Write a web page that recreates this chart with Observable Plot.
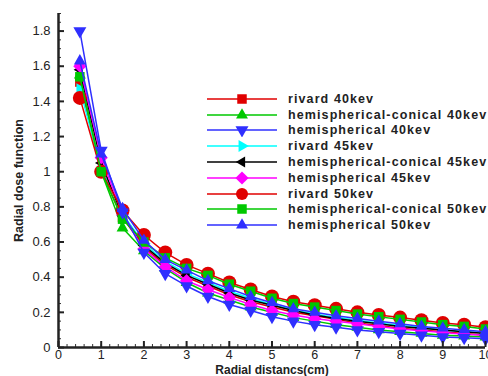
<!DOCTYPE html>
<html><head><meta charset="utf-8">
<script src="https://cdn.jsdelivr.net/npm/d3@7"></script>
<script src="https://cdn.jsdelivr.net/npm/@observablehq/plot@0.6"></script>
<style>
body{margin:0;background:#fff;font-family:"Liberation Sans",Arial,sans-serif;}
#wrap{position:relative;width:488px;height:376px;overflow:hidden;}
#legend{position:absolute;left:207px;top:91px;font:bold 12.5px "Liberation Sans",Arial,sans-serif;letter-spacing:1.1px;color:#222;white-space:nowrap;}
#legend .row{display:flex;align-items:center;height:15.8px;}
#legend svg{margin-right:11px;}
</style></head>
<body><div id="wrap"><div id="chart"></div><div id="legend"></div></div>
<script>
const distances = [0.5,1,1.5,2,2.5,3,3.5,4,4.5,5,5.5,6,6.5,7,7.5,8,8.5,9,9.5,10];
const seriesNames = ["rivard 40kev","hemispherical-conical 40kev","hemispherical 40kev","rivard 45kev","hemispherical-conical 45kev","hemispherical 45kev","rivard 50kev","hemispherical-conical 50kev","hemispherical 50kev"];
const rivard40 = [1.51,1.0,0.74,0.57,0.47,0.40,0.35,0.30,0.26,0.23,0.20,0.18,0.16,0.14,0.125,0.11,0.10,0.09,0.08,0.07];
const hemiCon40 = [1.55,1.0,0.68,0.55,0.45,0.37,0.31,0.27,0.23,0.20,0.17,0.15,0.13,0.115,0.10,0.09,0.08,0.07,0.065,0.06];
const hemi40 = [1.80,1.12,0.77,0.54,0.42,0.35,0.29,0.245,0.21,0.175,0.15,0.13,0.115,0.10,0.09,0.08,0.07,0.06,0.055,0.05];
const rivard45 = [1.47,1.02,0.76,0.59,0.49,0.42,0.37,0.32,0.28,0.245,0.215,0.19,0.17,0.155,0.14,0.125,0.115,0.10,0.09,0.085];
const hemiCon45 = [1.58,1.05,0.75,0.58,0.48,0.41,0.36,0.31,0.27,0.24,0.21,0.185,0.165,0.15,0.135,0.12,0.11,0.10,0.09,0.08];
const hemi45 = [1.60,1.08,0.76,0.56,0.46,0.38,0.33,0.285,0.245,0.21,0.185,0.165,0.15,0.135,0.12,0.105,0.095,0.085,0.075,0.07];
const rivard50 = [1.42,1.0,0.78,0.64,0.54,0.47,0.42,0.37,0.33,0.29,0.26,0.24,0.22,0.20,0.185,0.17,0.155,0.14,0.13,0.115];
const hemiCon50 = [1.54,1.0,0.73,0.60,0.51,0.45,0.41,0.36,0.32,0.28,0.25,0.23,0.21,0.19,0.175,0.16,0.145,0.13,0.12,0.105];
const hemi50 = [1.63,1.10,0.79,0.61,0.50,0.44,0.38,0.335,0.29,0.255,0.22,0.20,0.18,0.165,0.15,0.135,0.12,0.11,0.10,0.09];
const seriesValues = [rivard40,hemiCon40,hemi40,rivard45,hemiCon45,hemi45,rivard50,hemiCon50,hemi50];
const seriesColors = ["#e00000","#00c800","#2f2fff","#00ffff","#000000","#ff00ff","#e00000","#00c800","#2f2fff"];
const seriesMarkers = ["square","triangle","tridown","triright","trileft","diamond","circle","square","triangle"];
const markerSizes = [5,5.5,6,5.5,5,5.5,7,5,5.5];
const xTicks = [0,1,2,3,4,5,6,7,8,9,10];
const yTicks = [0,0.2,0.4,0.6,0.8,1,1.2,1.4,1.6,1.8];

function triSym(deg){
  return {draw(ctx, size){
    const R = Math.sqrt(size/Math.PI)*1.25;
    for(let k=0;k<3;k++){
      const a = (deg + k*120)*Math.PI/180;
      const px = R*Math.cos(a), py = R*Math.sin(a);
      if(k===0) ctx.moveTo(px,py); else ctx.lineTo(px,py);
    }
    ctx.closePath();
  }};
}
const diamondSym = {draw(ctx,size){const R=Math.sqrt(size/Math.PI)*1.2;ctx.moveTo(0,-R);ctx.lineTo(R,0);ctx.lineTo(0,R);ctx.lineTo(-R,0);ctx.closePath();}};
const squareSym = {draw(ctx,size){const h=Math.sqrt(size/Math.PI)*0.95;ctx.rect(-h,-h,2*h,2*h);}};
const symbolMap = {square:squareSym, triangle:triSym(-90), tridown:triSym(90), triright:triSym(0), trileft:triSym(180), diamond:diamondSym, circle:"circle"};

const rows = [];
seriesNames.forEach((name,i)=>distances.forEach((d,j)=>rows.push({series:name, i, x:d, y:seriesValues[i][j]})));

const marks = [];
const drawOrder = [0,1,3,4,5,6,7,8,2];
for(const i of drawOrder){
  const data = rows.filter(r=>r.i===i);
  marks.push(Plot.line(data,{x:"x",y:"y",stroke:seriesColors[i],strokeWidth:1.5}));
  marks.push(Plot.dot(data,{x:"x",y:"y",fill:seriesColors[i],stroke:"none",r:markerSizes[i],symbol:()=>symbolMap[seriesMarkers[i]]}));
}

const chart = Plot.plot({
  width:488, height:376,
  marginLeft:58, marginRight:3, marginTop:13, marginBottom:29,
  style:{fontFamily:"Liberation Sans, Arial, sans-serif", fontSize:"12px", color:"#222", background:"#fff"},
  x:{domain:[0,10]},
  y:{domain:[0,1.9]},
  marks:[
    ...marks,
    Plot.axisY(d3.range(0,1.9001,0.05),{tickSize:-3,tickFormat:()=>"",label:null,stroke:"#333"}),
    Plot.axisX(d3.range(0,10.001,0.2),{tickSize:-3,tickFormat:()=>"",label:null,stroke:"#333"}),
    Plot.axisY(yTicks,{tickSize:-6,tickPadding:14,strokeWidth:2,stroke:"#222",fontSize:13,tickFormat:d=>String(+d.toFixed(1)),label:"Radial dose function",labelAnchor:"center",labelOffset:44,labelArrow:"none"}),
    Plot.axisX(xTicks,{tickSize:-6,tickPadding:9,strokeWidth:2,stroke:"#222",fontSize:12.5,tickFormat:d=>String(d),label:"Radial distancs(cm)",labelAnchor:"center",labelOffset:26,labelArrow:"none"}),
    Plot.ruleX([0],{stroke:"#222",strokeWidth:2.5}),
    Plot.ruleY([0],{stroke:"#222",strokeWidth:2.5})
  ]
});
document.getElementById("chart").appendChild(chart);
chart.querySelectorAll('[aria-label="y-axis label"] text').forEach(t=>{t.style.fontWeight="bold";t.style.fontSize="12.5px";});
chart.querySelectorAll('[aria-label="x-axis label"] text').forEach(t=>{t.style.fontWeight="bold";t.style.fontSize="12px";});

const leg = document.getElementById("legend");
seriesNames.forEach((name,i)=>{
  const row = document.createElement("div"); row.className="row";
  const s = d3.create("svg").attr("width",70).attr("height",14);
  s.append("line").attr("x1",0).attr("x2",70).attr("y1",7).attr("y2",7).attr("stroke",seriesColors[i]).attr("stroke-width",1.5);
  const sym = symbolMap[seriesMarkers[i]];
  const size = Math.PI*Math.min(markerSizes[i],6)**2;
  s.append("path").attr("transform","translate(35,7)").attr("fill",seriesColors[i])
    .attr("d", d3.symbol(sym==="circle"?d3.symbolCircle:sym, size)());
  row.appendChild(s.node());
  const t = document.createElement("span"); t.textContent=name; row.appendChild(t);
  leg.appendChild(row);
});
</script></body></html>
